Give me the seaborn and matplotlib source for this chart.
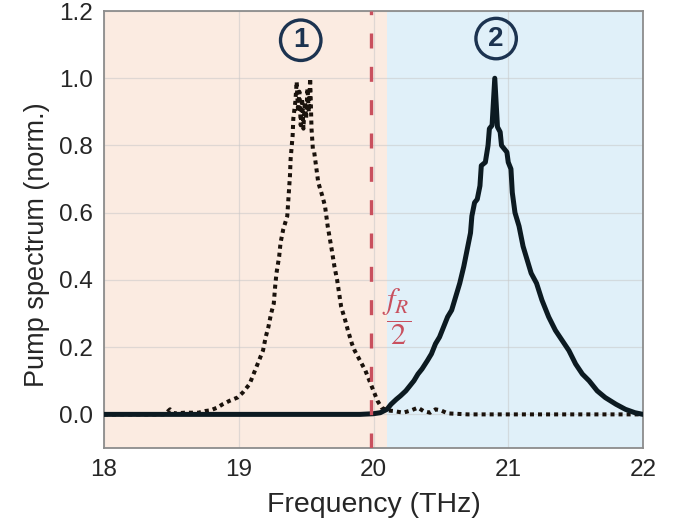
import numpy as np
import pandas as pd
import seaborn as sns
import matplotlib
matplotlib.use("Agg")
import matplotlib.pyplot as plt

# ---- data ----
freq_pump2 = [18.0, 19.5, 19.9, 20.0, 20.05, 20.1, 20.13, 20.17, 20.2, 20.24, 20.27, 20.3,
              20.33, 20.36, 20.40, 20.43, 20.46, 20.49, 20.52, 20.55, 20.58, 20.61, 20.64,
              20.67, 20.70, 20.72, 20.73, 20.75, 20.77, 20.79, 20.80, 20.83, 20.85, 20.86,
              20.88, 20.90, 20.92, 20.94, 20.95, 20.97, 20.99, 21.00, 21.02, 21.03, 21.05,
              21.08, 21.11, 21.14, 21.17, 21.21, 21.25, 21.30, 21.35, 21.40, 21.45, 21.50,
              21.55, 21.60, 21.66, 21.72, 21.80, 21.87, 21.94, 22.0]
spec_pump2 = [0.0, 0.0, 0.0, 0.002, 0.005, 0.015, 0.03, 0.045, 0.055, 0.07, 0.085, 0.10,
              0.12, 0.135, 0.16, 0.18, 0.21, 0.23, 0.26, 0.29, 0.31, 0.35, 0.39,
              0.44, 0.50, 0.54, 0.59, 0.63, 0.64, 0.68, 0.74, 0.75, 0.80, 0.85,
              0.86, 1.00, 0.855, 0.84, 0.80, 0.79, 0.78, 0.75, 0.73, 0.66, 0.60,
              0.56, 0.50, 0.46, 0.42, 0.39, 0.34, 0.29, 0.25, 0.22, 0.19, 0.15,
              0.12, 0.10, 0.07, 0.05, 0.03, 0.015, 0.005, 0.0]

freq_pump1 = [18.0, 18.45, 18.49, 18.52, 18.6, 18.7, 18.75, 18.79, 18.84, 18.88, 18.93, 18.99,
              19.03, 19.08, 19.12, 19.15, 19.18, 19.20, 19.22, 19.24, 19.26, 19.27, 19.28,
              19.30, 19.31, 19.33, 19.36, 19.37, 19.38, 19.385, 19.40, 19.405, 19.42, 19.43,
              19.44, 19.45, 19.46, 19.47, 19.48, 19.49, 19.50, 19.51, 19.52, 19.53, 19.54,
              19.55, 19.56, 19.58, 19.59, 19.62, 19.64, 19.66, 19.69, 19.71, 19.73, 19.76,
              19.79, 19.81, 19.84, 19.86, 19.90, 19.94, 19.97, 20.00, 20.03, 20.06, 20.10,
              20.15, 20.22, 20.28, 20.33, 20.37, 20.42, 20.46, 20.50, 20.55, 20.7, 22.0]
spec_pump1 = [0.0, 0.0, 0.015, 0.003, 0.005, 0.005, 0.01, 0.012, 0.02, 0.03, 0.04, 0.05,
              0.065, 0.09, 0.13, 0.16, 0.19, 0.23, 0.26, 0.30, 0.33, 0.38, 0.42,
              0.47, 0.51, 0.55, 0.59, 0.65, 0.71, 0.76, 0.83, 0.88, 0.93, 0.99,
              0.90, 0.96, 0.86, 0.94, 0.85, 0.93, 0.88, 0.97, 0.90, 1.00, 0.85,
              0.79, 0.78, 0.72, 0.69, 0.65, 0.62, 0.56, 0.49, 0.44, 0.40, 0.32,
              0.28, 0.25, 0.21, 0.19, 0.16, 0.13, 0.10, 0.07, 0.04, 0.02, 0.012,
              0.01, 0.005, 0.012, 0.02, 0.01, 0.005, 0.015, 0.012, 0.003, 0.0, 0.0]

x_ticks = [18, 19, 20, 21, 22]
y_ticks = [0.0, 0.2, 0.4, 0.6, 0.8, 1.0, 1.2]
f_half = 19.98        # f_R / 2 marker
band_split = 20.1     # boundary between regions 1 and 2
region_labels = ["1", "2"]
region_label_x = [19.46, 20.91]
region_label_y = [1.113, 1.118]

# ---- styling ----
sns.set_theme(style="white")
plt.rcParams["font.family"] = ["Liberation Sans", "DejaVu Sans"]
plt.rcParams["mathtext.fontset"] = "stix"

fig = plt.figure(figsize=(6.83, 5.29), dpi=100)
ax = fig.add_axes([104 / 683, 1 - 448 / 529, (643 - 104) / 683, (448 - 11) / 529])

ax.axvspan(18, band_split, color="#fbebe1", zorder=0.2, lw=0)
ax.axvspan(band_split, 22, color="#e0f0f9", zorder=0.2, lw=0)

df1 = pd.DataFrame({"f": freq_pump1, "s": spec_pump1})
df2 = pd.DataFrame({"f": freq_pump2, "s": spec_pump2})

sns.lineplot(data=df1, x="f", y="s", sort=False, estimator=None, ax=ax,
             color="#1a120c", lw=2.9, linestyle=(0, (1, 1.0)), zorder=3)
l1 = ax.get_lines()[-1]
l1.set_dash_capstyle("butt")
sns.lineplot(data=df2, x="f", y="s", sort=False, estimator=None, ax=ax,
             color="#0c1a21", lw=3.6, zorder=4)

ax.axvline(f_half, color="#c9505e", lw=2.4, linestyle=(0, (4.5, 5.5)), zorder=5)

navy = "#1c3350"
for lab, xx, yy in zip(region_labels, region_label_x, region_label_y):
    ax.text(xx, yy, lab, ha="center", va="center", fontsize=20, fontweight="bold",
            color=navy, zorder=6,
            bbox=dict(boxstyle="circle,pad=0.26", fc="none", ec=navy, lw=2.4))

ax.text(20.17, 0.29, r"$\dfrac{f_R}{2}$", color="#c9505e", fontsize=22,
        ha="center", va="center", zorder=6)

ax.set_xlim(18, 22)
ax.set_ylim(-0.1, 1.2)
ax.set_xticks(x_ticks)
ax.set_yticks(y_ticks)
ax.set_xticklabels([str(t) for t in x_ticks])
ax.set_yticklabels([f"{t:.1f}" for t in y_ticks])
ax.set_axisbelow(True)
ax.grid(True, color="#c8c8c8", alpha=0.55, lw=0.9)
ax.tick_params(direction="in", length=5, width=1, colors="#555555",
               labelcolor="#262626", labelsize=17.5, top=False, right=False, pad=8)
for sp in ax.spines.values():
    sp.set_color("#8c8c8c")
    sp.set_linewidth(1.3)

ax.set_xlabel("Frequency (THz)", fontsize=20.5, color="#262626", labelpad=8)
ax.set_ylabel("Pump spectrum (norm.)", fontsize=19.5, color="#262626", labelpad=8)
ax.yaxis.set_label_coords(-0.10, 0.465)

fig.savefig("out.png", dpi=100)
